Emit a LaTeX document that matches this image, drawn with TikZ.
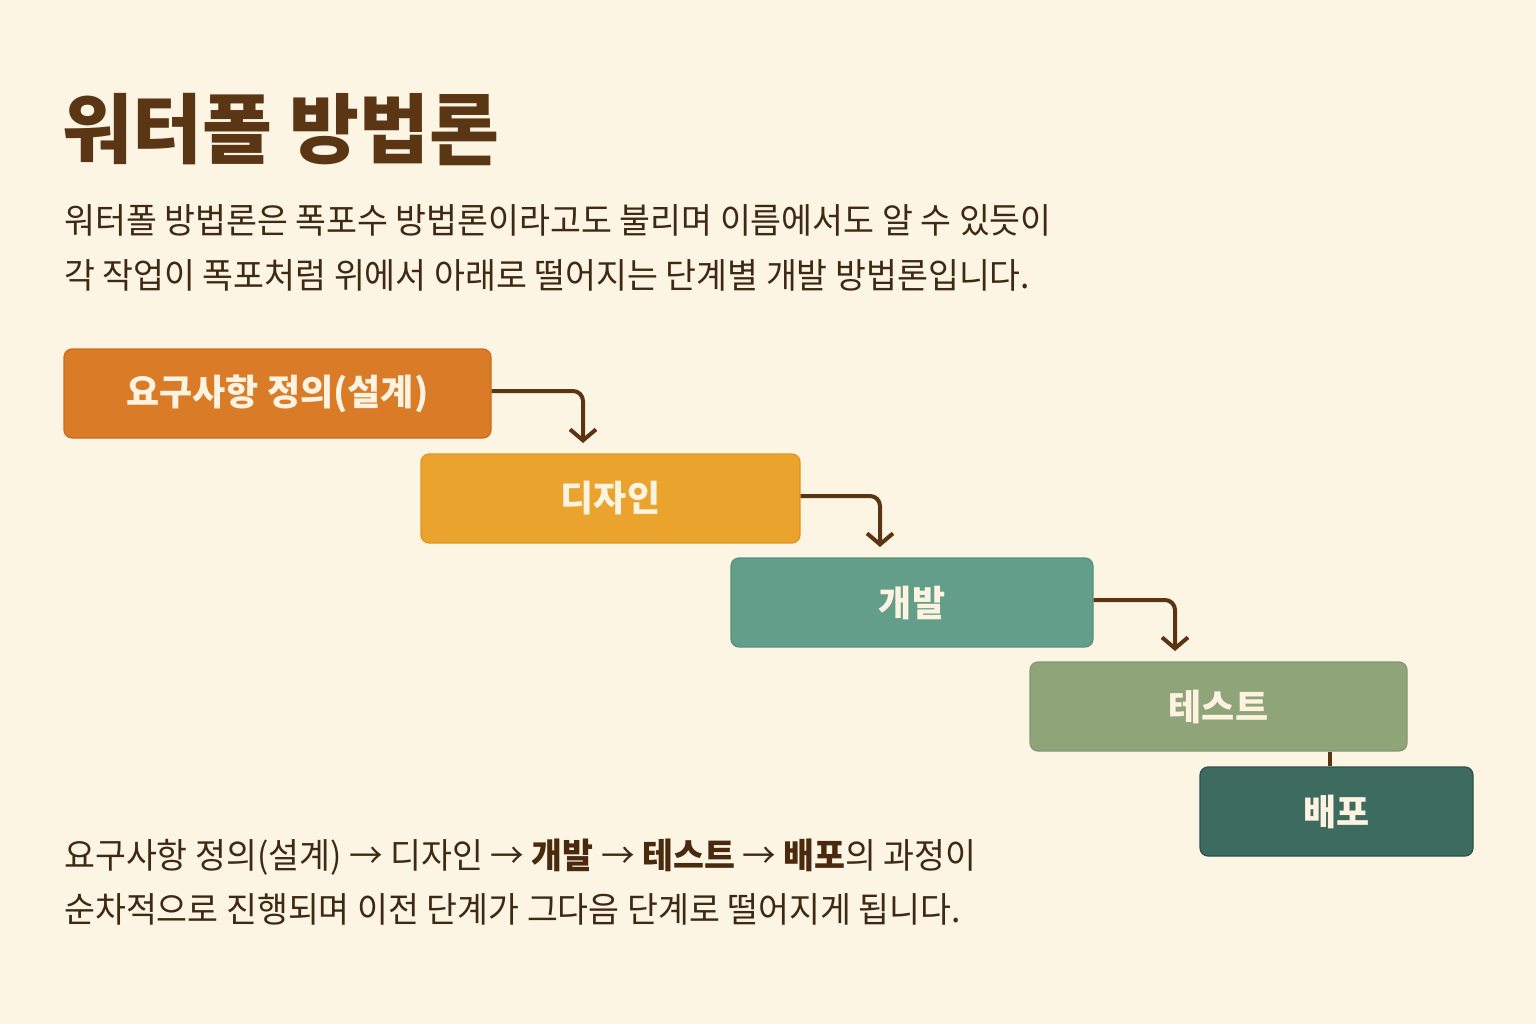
\documentclass[tikz,border=0pt]{standalone}
\usepackage{fontspec}
\usetikzlibrary{arrows.meta}
\newfontfamily\kr{Noto Sans CJK KR}
\newfontfamily\krbody[FakeStretch=0.96]{Noto Sans CJK KR}
\definecolor{bg}{HTML}{FDF5E3}
\definecolor{titlec}{HTML}{5A3615}
\definecolor{bodyc}{HTML}{3E2A14}
\definecolor{boldc}{HTML}{4A2A0E}
\definecolor{arrowc}{HTML}{5A3413}
\definecolor{boxtext}{HTML}{FDF3E0}
\definecolor{f1}{HTML}{D97B27}\definecolor{d1}{HTML}{C96E1F}
\definecolor{f2}{HTML}{EAA32C}\definecolor{d2}{HTML}{DD981F}
\definecolor{f3}{HTML}{639E8A}\definecolor{d3}{HTML}{54907C}
\definecolor{f4}{HTML}{8FA478}\definecolor{d4}{HTML}{839870}
\definecolor{f5}{HTML}{3D6B60}\definecolor{d5}{HTML}{2C5249}
\tikzset{
  stage/.style={rounded corners=8pt, line width=1.2pt, inner sep=0pt, minimum height=89pt,
    font=\kr\bfseries\fontsize{36}{42}\selectfont, text=boxtext},
  conn/.style={draw=arrowc, line width=4pt, rounded corners=10pt,
    -{Straight Barb[length=11pt,width=26pt,line width=4pt]}},
  link/.style={draw=arrowc, line width=4pt},
  txt/.style={anchor=base west, inner sep=0pt, text=bodyc, font=\krbody\fontsize{35}{40}\selectfont}
}
\begin{document}
\begin{tikzpicture}[x=1pt,y=-1pt]
\fill[bg] (0,0) rectangle (1536,1024);
\useasboundingbox (0,0) rectangle (1536,1024);

\node[anchor=base west, inner sep=0pt, text=titlec, font=\kr\bfseries\fontsize{76}{84}\selectfont] (title) at (62,158) {워터폴 방법론};

\node[txt] (p1) at (64,234) {워터폴 방법론은 폭포수 방법론이라고도 불리며 이름에서도 알 수 있듯이};
\node[txt] (p2) at (64,288) {각 작업이 폭포처럼 위에서 아래로 떨어지는 단계별 개발 방법론입니다.};

\node[stage, fill=f1, draw=d1, minimum width=427pt] (b1) at (277.5,393.5) {요구사항 정의(설계)};
\node[stage, fill=f2, draw=d2, minimum width=379pt] (b2) at (610.5,498.5) {디자인};
\node[stage, fill=f3, draw=d3, minimum width=362pt] (b3) at (912,602.5) {개발};
\node[stage, fill=f4, draw=d4, minimum width=377pt] (b4) at (1218.5,706.5) {테스트};
\node[stage, fill=f5, draw=d5, minimum width=273pt] (b5) at (1336.5,811.5) {배포};

\coordinate (e1) at (583,443);
\coordinate (e2) at (880,547);
\coordinate (e3) at (1175,651);
\coordinate (k) at (1330,0);

\draw[conn] (b1.east |- 0,391) -| (e1);
\draw[conn] (b2.east |- 0,496) -| (e2);
\draw[conn] (b3.east |- 0,600) -| (e3);
\draw[link] (b4.south -| k) -- (b5.north -| k);

\node[txt] (q1) at (64,868) {요구사항 정의(설계) → 디자인 → {\bfseries\color{boldc}개발} → {\bfseries\color{boldc}테스트} → {\bfseries\color{boldc}배포}의 과정이};
\node[txt] (q2) at (64,922) {순차적으로 진행되며 이전 단계가 그다음 단계로 떨어지게 됩니다.};
\end{tikzpicture}
\end{document}
